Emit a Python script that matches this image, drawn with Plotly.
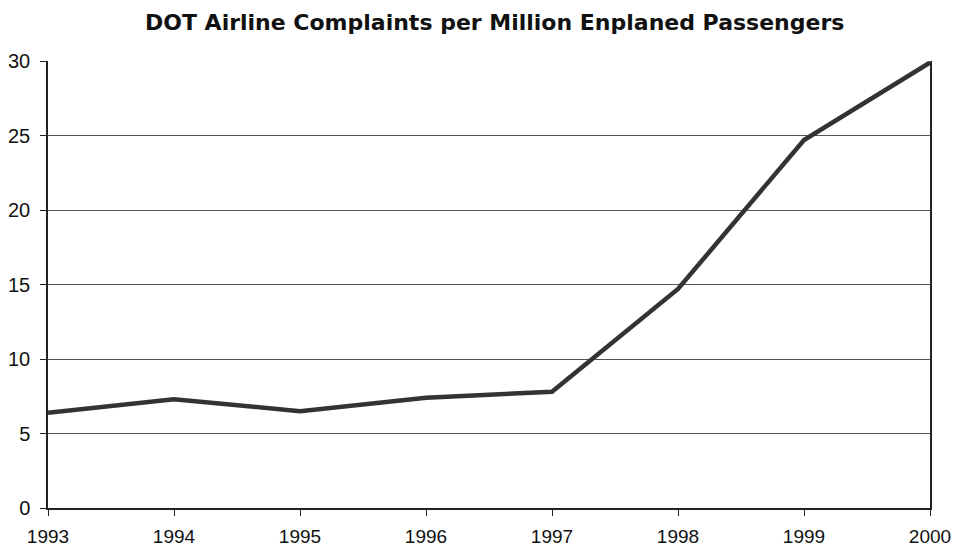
import plotly.graph_objects as go

# DOT complaints per million enplaned passengers, by year
years = [1993, 1994, 1995, 1996, 1997, 1998, 1999, 2000]
complaints = [6.4, 7.3, 6.5, 7.4, 7.8, 14.7, 24.7, 29.9]
y_ticks = [0, 5, 10, 15, 20, 25, 30]

fig = go.Figure()
fig.add_trace(go.Scatter(
    x=years, y=complaints, mode="lines",
    line=dict(color="#333333", width=4.5),
    hoverinfo="x+y",
))

fig.update_layout(
    width=955, height=550,
    margin=dict(l=48, r=25, t=61, b=42, autoexpand=False),
    paper_bgcolor="white", plot_bgcolor="white",
    showlegend=False,
    font=dict(family="Liberation Sans, Arial, sans-serif", size=20, color="#111111"),
    title=dict(
        text="<b>DOT Airline Complaints per Million Enplaned Passengers</b>",
        x=0.518, xanchor="center", y=0.96, yanchor="middle",
        font=dict(family="DejaVu Sans, sans-serif", size=22, color="#111111"),
    ),
)

fig.update_xaxes(
    range=[1993, 2000], tickvals=years, ticktext=[str(y) for y in years],
    tickfont=dict(size=19), automargin=False,
    showgrid=False, showline=True, linecolor="#222222", linewidth=1.5,
    ticks="outside", ticklen=6, tickcolor="#222222", tickwidth=1,
    ticklabelstandoff=4,
    zeroline=False, fixedrange=True,
)
fig.update_yaxes(
    range=[0, 30], tickvals=y_ticks,
    tickfont=dict(size=20), automargin=False,
    showgrid=True, gridcolor="#555555", gridwidth=1,
    showline=True, linecolor="#222222", linewidth=1.5, mirror=True,
    ticks="outside", ticklen=6, tickcolor="#222222", tickwidth=1,
    ticklabelstandoff=6,
    zeroline=False, fixedrange=True,
)

fig.write_html("out.html")
